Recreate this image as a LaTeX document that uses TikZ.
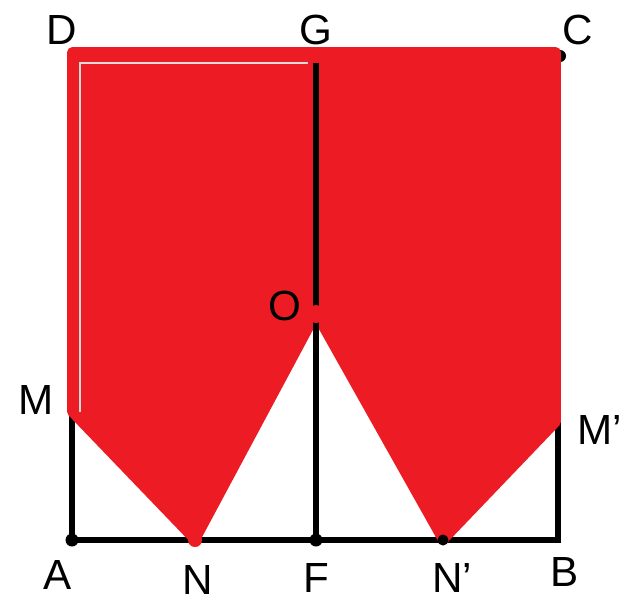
\documentclass[tikz,border=0pt]{standalone}
\usepackage{fontspec}
\setmainfont{Liberation Sans}
\usetikzlibrary{calc}
\definecolor{figred}{RGB}{237,28,36}

\begin{document}
\begin{tikzpicture}[x=0.02cm, y=-0.02cm, font=\fontsize{24}{28}\selectfont]
\useasboundingbox (0,0) rectangle (641,613);

\coordinate (A) at (72,540);
\coordinate (B) at (558,540);
\coordinate (C) at (556,52);
\coordinate (D) at (72,52);
\coordinate (G) at (316,52);
\coordinate (F) at (316,540);
\coordinate (O) at (316,314);
\coordinate (M) at (72,412);
\coordinate (M') at (556,422);
\coordinate (N) at (195,540);
\coordinate (N') at (443,540);

% black frame
\draw[line width=3.8pt, line cap=round] (M) -- (A) -- (B) -- (558,422);
\fill (560,56) circle (6);

% red figure
\draw[figred, fill=figred, line width=5.5pt, line join=round]
  (D) -- (G) -- (C) -- (M') -- (N') -- (O) -- (N) -- (M) -- cycle;
\draw[white!70!gray, line width=0.8pt] (80,412) -- (80,63) -- (308,63);

% segment GF
\draw[line width=3.8pt] (316,63) -- (F);
\fill[figred] (O) circle (9);

% points
\fill (A) circle (6.5);
\fill (F) circle (6.5);
\fill (N') circle (5.5);
\fill[figred] (N) circle (7);

% labels
\node (lA) at (58,575) {A};
\node (lN) at (198,580) {N};
\node (lF) at (316,578) {F};
\node (lN') at (452,578) {N'};
\node (lB) at (565,572) {B};
\node (lD) at (62,30) {D};
\node (lG) at (316,30) {G};
\node (lC) at (578,30) {C};
\node (lM) at (36,400) {M};
\node (lM') at (600,430) {M'};
\node (lO) at (285,306) {O};
\end{tikzpicture}
\end{document}
